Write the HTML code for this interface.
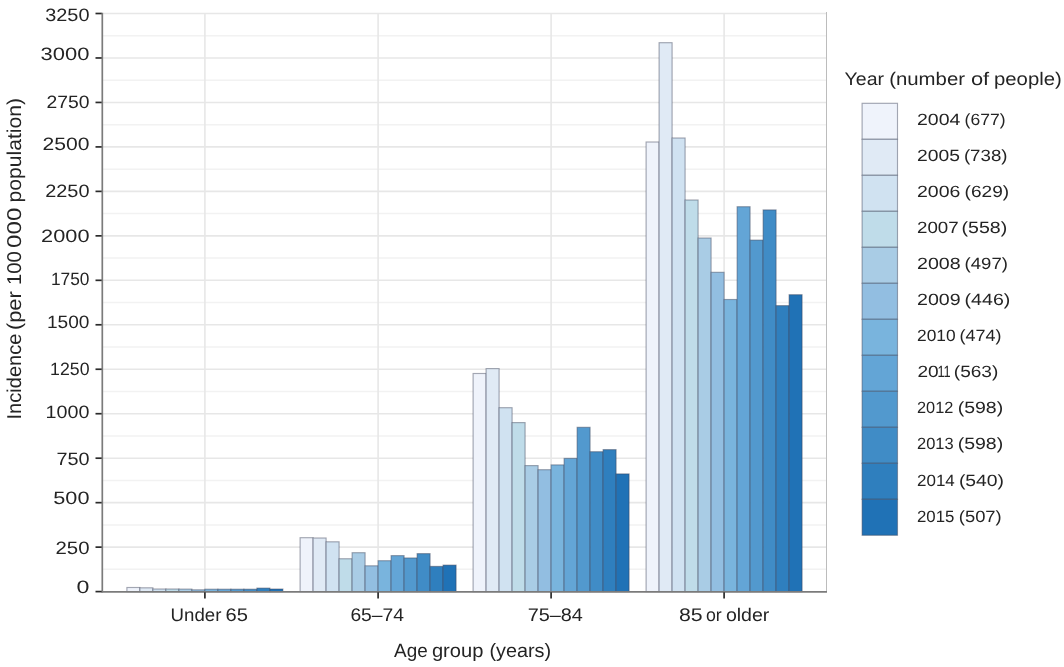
<!DOCTYPE html>
<html lang="en"><head><meta charset="utf-8"><title>Incidence by age group and year</title>
<style>html,body{margin:0;padding:0;background:#fff;}body{width:1064px;height:667px;overflow:hidden;}svg{display:block;will-change:transform;}text{font-family:"Liberation Sans",sans-serif;fill:#242424;text-rendering:geometricPrecision;}</style></head><body>
<svg width="1064" height="667" viewBox="0 0 1064 667">
<rect x="0" y="0" width="1064" height="667" fill="#ffffff"/>
<g stroke="#f2f2f2" stroke-width="1.5">
<line x1="102.3" y1="569.37" x2="826.5" y2="569.37"/>
<line x1="102.3" y1="524.90" x2="826.5" y2="524.90"/>
<line x1="102.3" y1="480.43" x2="826.5" y2="480.43"/>
<line x1="102.3" y1="435.96" x2="826.5" y2="435.96"/>
<line x1="102.3" y1="391.49" x2="826.5" y2="391.49"/>
<line x1="102.3" y1="347.02" x2="826.5" y2="347.02"/>
<line x1="102.3" y1="302.55" x2="826.5" y2="302.55"/>
<line x1="102.3" y1="258.08" x2="826.5" y2="258.08"/>
<line x1="102.3" y1="213.61" x2="826.5" y2="213.61"/>
<line x1="102.3" y1="169.14" x2="826.5" y2="169.14"/>
<line x1="102.3" y1="124.67" x2="826.5" y2="124.67"/>
<line x1="102.3" y1="80.20" x2="826.5" y2="80.20"/>
<line x1="102.3" y1="35.73" x2="826.5" y2="35.73"/>
</g>
<g stroke="#e7e7e7" stroke-width="1.6">
<line x1="102.3" y1="547.13" x2="826.5" y2="547.13"/>
<line x1="102.3" y1="502.66" x2="826.5" y2="502.66"/>
<line x1="102.3" y1="458.19" x2="826.5" y2="458.19"/>
<line x1="102.3" y1="413.72" x2="826.5" y2="413.72"/>
<line x1="102.3" y1="369.25" x2="826.5" y2="369.25"/>
<line x1="102.3" y1="324.78" x2="826.5" y2="324.78"/>
<line x1="102.3" y1="280.32" x2="826.5" y2="280.32"/>
<line x1="102.3" y1="235.85" x2="826.5" y2="235.85"/>
<line x1="102.3" y1="191.38" x2="826.5" y2="191.38"/>
<line x1="102.3" y1="146.91" x2="826.5" y2="146.91"/>
<line x1="102.3" y1="102.44" x2="826.5" y2="102.44"/>
<line x1="102.3" y1="57.97" x2="826.5" y2="57.97"/>
<line x1="102.3" y1="13.50" x2="826.5" y2="13.50"/>
<line x1="204.9" y1="13.5" x2="204.9" y2="591.6"/>
<line x1="378.1" y1="13.5" x2="378.1" y2="591.6"/>
<line x1="551.1" y1="13.5" x2="551.1" y2="591.6"/>
<line x1="724.1" y1="13.5" x2="724.1" y2="591.6"/>
</g>
<line x1="826.5" y1="12" x2="826.5" y2="591.6" stroke="#bcbcbc" stroke-width="1"/>
<g stroke="#3a4056" stroke-opacity="0.45" stroke-width="1.15">
<rect x="126.90" y="587.50" width="13.00" height="4.10" fill="#EFF3FB"/>
<rect x="139.90" y="587.80" width="13.00" height="3.80" fill="#E0EAF5"/>
<rect x="152.90" y="589.00" width="13.00" height="2.60" fill="#D0E2F1"/>
<rect x="165.90" y="589.00" width="13.00" height="2.60" fill="#BFDCE9"/>
<rect x="178.90" y="589.10" width="13.00" height="2.50" fill="#A9CCE5"/>
<rect x="191.90" y="589.80" width="13.00" height="1.80" fill="#92BEE1"/>
<rect x="204.90" y="589.20" width="13.00" height="2.40" fill="#79B4DD"/>
<rect x="217.90" y="589.20" width="13.00" height="2.40" fill="#63A5D6"/>
<rect x="230.90" y="589.20" width="13.00" height="2.40" fill="#5299CE"/>
<rect x="243.90" y="589.20" width="13.00" height="2.40" fill="#408CC6"/>
<rect x="256.90" y="588.10" width="13.00" height="3.50" fill="#2F7FBE"/>
<rect x="269.90" y="589.00" width="13.00" height="2.60" fill="#2072B6"/>
<rect x="300.10" y="537.70" width="13.00" height="53.90" fill="#EFF3FB"/>
<rect x="313.10" y="538.00" width="13.00" height="53.60" fill="#E0EAF5"/>
<rect x="326.10" y="541.80" width="13.00" height="49.80" fill="#D0E2F1"/>
<rect x="339.10" y="558.75" width="13.00" height="32.85" fill="#BFDCE9"/>
<rect x="352.10" y="552.70" width="13.00" height="38.90" fill="#A9CCE5"/>
<rect x="365.10" y="565.80" width="13.00" height="25.80" fill="#92BEE1"/>
<rect x="378.10" y="560.70" width="13.00" height="30.90" fill="#79B4DD"/>
<rect x="391.10" y="555.60" width="13.00" height="36.00" fill="#63A5D6"/>
<rect x="404.10" y="557.95" width="13.00" height="33.65" fill="#5299CE"/>
<rect x="417.10" y="553.60" width="13.00" height="38.00" fill="#408CC6"/>
<rect x="430.10" y="566.40" width="13.00" height="25.20" fill="#2F7FBE"/>
<rect x="443.10" y="565.10" width="13.00" height="26.50" fill="#2072B6"/>
<rect x="473.10" y="373.50" width="13.00" height="218.10" fill="#EFF3FB"/>
<rect x="486.10" y="368.60" width="13.00" height="223.00" fill="#E0EAF5"/>
<rect x="499.10" y="407.70" width="13.00" height="183.90" fill="#D0E2F1"/>
<rect x="512.10" y="422.60" width="13.00" height="169.00" fill="#BFDCE9"/>
<rect x="525.10" y="465.60" width="13.00" height="126.00" fill="#A9CCE5"/>
<rect x="538.10" y="469.70" width="13.00" height="121.90" fill="#92BEE1"/>
<rect x="551.10" y="464.90" width="13.00" height="126.70" fill="#79B4DD"/>
<rect x="564.10" y="458.40" width="13.00" height="133.20" fill="#63A5D6"/>
<rect x="577.10" y="427.30" width="13.00" height="164.30" fill="#5299CE"/>
<rect x="590.10" y="451.70" width="13.00" height="139.90" fill="#408CC6"/>
<rect x="603.10" y="449.60" width="13.00" height="142.00" fill="#2F7FBE"/>
<rect x="616.10" y="473.90" width="13.00" height="117.70" fill="#2072B6"/>
<rect x="646.10" y="142.00" width="13.00" height="449.60" fill="#EFF3FB"/>
<rect x="659.10" y="42.70" width="13.00" height="548.90" fill="#E0EAF5"/>
<rect x="672.10" y="138.00" width="13.00" height="453.60" fill="#D0E2F1"/>
<rect x="685.10" y="200.00" width="13.00" height="391.60" fill="#BFDCE9"/>
<rect x="698.10" y="238.00" width="13.00" height="353.60" fill="#A9CCE5"/>
<rect x="711.10" y="272.30" width="13.00" height="319.30" fill="#92BEE1"/>
<rect x="724.10" y="299.50" width="13.00" height="292.10" fill="#79B4DD"/>
<rect x="737.10" y="206.70" width="13.00" height="384.90" fill="#63A5D6"/>
<rect x="750.10" y="240.10" width="13.00" height="351.50" fill="#5299CE"/>
<rect x="763.10" y="209.90" width="13.00" height="381.70" fill="#408CC6"/>
<rect x="776.10" y="305.60" width="13.00" height="286.00" fill="#2F7FBE"/>
<rect x="789.10" y="294.70" width="13.00" height="296.90" fill="#2072B6"/>
</g>
<g stroke="#7b7b7b" stroke-width="1.7" fill="none">
<line x1="102.3" y1="12.7" x2="102.3" y2="592.5"/>
<line x1="101.5" y1="591.9" x2="827.0" y2="591.9"/>
</g>
<g stroke="#2b2b2b" stroke-width="1.7">
<line x1="95.5" y1="591.60" x2="101.7" y2="591.60"/>
<line x1="95.5" y1="547.13" x2="101.7" y2="547.13"/>
<line x1="95.5" y1="502.66" x2="101.7" y2="502.66"/>
<line x1="95.5" y1="458.19" x2="101.7" y2="458.19"/>
<line x1="95.5" y1="413.72" x2="101.7" y2="413.72"/>
<line x1="95.5" y1="369.25" x2="101.7" y2="369.25"/>
<line x1="95.5" y1="324.78" x2="101.7" y2="324.78"/>
<line x1="95.5" y1="280.32" x2="101.7" y2="280.32"/>
<line x1="95.5" y1="235.85" x2="101.7" y2="235.85"/>
<line x1="95.5" y1="191.38" x2="101.7" y2="191.38"/>
<line x1="95.5" y1="146.91" x2="101.7" y2="146.91"/>
<line x1="95.5" y1="102.44" x2="101.7" y2="102.44"/>
<line x1="95.5" y1="57.97" x2="101.7" y2="57.97"/>
<line x1="95.5" y1="13.50" x2="101.7" y2="13.50"/>
<line x1="204.9" y1="592.2" x2="204.9" y2="598.4"/>
<line x1="378.1" y1="592.2" x2="378.1" y2="598.4"/>
<line x1="551.1" y1="592.2" x2="551.1" y2="598.4"/>
<line x1="724.1" y1="592.2" x2="724.1" y2="598.4"/>
</g>
<g font-size="17.9">
<text x="45.2" y="21.1" textLength="44.3" lengthAdjust="spacingAndGlyphs">3250</text>
<text x="40.6" y="60.3" textLength="48.9" lengthAdjust="spacingAndGlyphs">3000</text>
<text x="46.5" y="108.0" textLength="43.0" lengthAdjust="spacingAndGlyphs">2750</text>
<text x="42.5" y="149.7" textLength="47.0" lengthAdjust="spacingAndGlyphs">2500</text>
<text x="45.2" y="196.9" textLength="44.3" lengthAdjust="spacingAndGlyphs">2250</text>
<text x="41.1" y="242.0" textLength="48.4" lengthAdjust="spacingAndGlyphs">2000</text>
<text x="51.0" y="285.3" textLength="38.5" lengthAdjust="spacingAndGlyphs">1750</text>
<text x="47.0" y="328.4" textLength="42.5" lengthAdjust="spacingAndGlyphs">1500</text>
<text x="50.1" y="375.1" textLength="39.4" lengthAdjust="spacingAndGlyphs">1250</text>
<text x="45.6" y="417.8" textLength="43.9" lengthAdjust="spacingAndGlyphs">1000</text>
<text x="56.4" y="464.7" textLength="33.1" lengthAdjust="spacingAndGlyphs">750</text>
<text x="53.3" y="504.4" textLength="36.2" lengthAdjust="spacingAndGlyphs">500</text>
<text x="55.5" y="553.8" textLength="34.0" lengthAdjust="spacingAndGlyphs">250</text>
<text x="76.6" y="593.3" textLength="12.9" lengthAdjust="spacingAndGlyphs">0</text>
</g>
<g font-size="18.2">
<text x="170.6" y="621.2" textLength="50.8" lengthAdjust="spacingAndGlyphs">Under</text>
<text x="225.6" y="621.2" textLength="22.4" lengthAdjust="spacingAndGlyphs">65</text>
<text x="350.4" y="621.2" textLength="53.6" lengthAdjust="spacingAndGlyphs">65–74</text>
<text x="527.7" y="621.2" textLength="55.2" lengthAdjust="spacingAndGlyphs">75–84</text>
<text x="679.0" y="621.2" textLength="23.7" lengthAdjust="spacingAndGlyphs">85</text>
<text x="705.9" y="621.2" textLength="15.8" lengthAdjust="spacingAndGlyphs">or</text>
<text x="725.9" y="621.2" textLength="43.5" lengthAdjust="spacingAndGlyphs">older</text>
</g>
<g font-size="19.2">
<text x="394.1" y="656.8" textLength="33.6" lengthAdjust="spacingAndGlyphs">Age</text>
<text x="431.9" y="656.8" textLength="51.5" lengthAdjust="spacingAndGlyphs">group</text>
<text x="489.4" y="656.8" textLength="61.7" lengthAdjust="spacingAndGlyphs">(years)</text>
</g>
<g font-size="20">
<text transform="translate(20.5,419.5) rotate(-90)" textLength="86.0" lengthAdjust="spacingAndGlyphs">Incidence</text>
<text transform="translate(20.5,330.0) rotate(-90)" textLength="38.7" lengthAdjust="spacingAndGlyphs">(per</text>
<text transform="translate(20.5,285.1) rotate(-90)" textLength="33.8" lengthAdjust="spacingAndGlyphs">100</text>
<text transform="translate(20.5,247.9) rotate(-90)" textLength="40.3" lengthAdjust="spacingAndGlyphs">000</text>
<text transform="translate(20.5,202.6) rotate(-90)" textLength="104.7" lengthAdjust="spacingAndGlyphs">population)</text>
</g>
<g font-size="18.2">
<text x="844.6" y="84.6" textLength="39.4" lengthAdjust="spacingAndGlyphs">Year</text>
<text x="889.2" y="84.6" textLength="75.8" lengthAdjust="spacingAndGlyphs">(number</text>
<text x="970.9" y="84.6" textLength="18.3" lengthAdjust="spacingAndGlyphs">of</text>
<text x="994.0" y="84.6" textLength="67.8" lengthAdjust="spacingAndGlyphs">people)</text>
</g>
<g stroke="#3a4056" stroke-opacity="0.45" stroke-width="1.15">
<rect x="862.1" y="103.30" width="35.4" height="36.00" fill="#EFF3FB"/>
<rect x="862.1" y="139.30" width="35.4" height="36.00" fill="#E0EAF5"/>
<rect x="862.1" y="175.30" width="35.4" height="36.00" fill="#D0E2F1"/>
<rect x="862.1" y="211.30" width="35.4" height="36.00" fill="#BFDCE9"/>
<rect x="862.1" y="247.30" width="35.4" height="36.00" fill="#A9CCE5"/>
<rect x="862.1" y="283.30" width="35.4" height="36.00" fill="#92BEE1"/>
<rect x="862.1" y="319.30" width="35.4" height="36.00" fill="#79B4DD"/>
<rect x="862.1" y="355.30" width="35.4" height="36.00" fill="#63A5D6"/>
<rect x="862.1" y="391.30" width="35.4" height="36.00" fill="#5299CE"/>
<rect x="862.1" y="427.30" width="35.4" height="36.00" fill="#408CC6"/>
<rect x="862.1" y="463.30" width="35.4" height="36.00" fill="#2F7FBE"/>
<rect x="862.1" y="499.30" width="35.4" height="36.00" fill="#2072B6"/>
</g>
<g font-size="16.3">
<text x="917.0" y="124.7" textLength="43.3" lengthAdjust="spacingAndGlyphs">2004</text>
<text x="964.6" y="124.7" textLength="40.9" lengthAdjust="spacingAndGlyphs">(677)</text>
<text x="917.0" y="160.8" textLength="42.9" lengthAdjust="spacingAndGlyphs">2005</text>
<text x="963.9" y="160.8" textLength="43.6" lengthAdjust="spacingAndGlyphs">(738)</text>
<text x="917.0" y="196.9" textLength="43.3" lengthAdjust="spacingAndGlyphs">2006</text>
<text x="964.6" y="196.9" textLength="44.5" lengthAdjust="spacingAndGlyphs">(629)</text>
<text x="917.0" y="232.9" textLength="41.7" lengthAdjust="spacingAndGlyphs">2007</text>
<text x="961.5" y="232.9" textLength="45.7" lengthAdjust="spacingAndGlyphs">(558)</text>
<text x="917.0" y="269.0" textLength="43.6" lengthAdjust="spacingAndGlyphs">2008</text>
<text x="964.6" y="269.0" textLength="43.3" lengthAdjust="spacingAndGlyphs">(497)</text>
<text x="917.0" y="305.1" textLength="43.6" lengthAdjust="spacingAndGlyphs">2009</text>
<text x="964.6" y="305.1" textLength="45.7" lengthAdjust="spacingAndGlyphs">(446)</text>
<text x="917.0" y="341.2" textLength="38.6" lengthAdjust="spacingAndGlyphs">2010</text>
<text x="959.5" y="341.2" textLength="41.9" lengthAdjust="spacingAndGlyphs">(474)</text>
<text x="917.4" y="377.26" textLength="21.2" lengthAdjust="spacingAndGlyphs">20</text>
<text x="937.4" y="377.26" textLength="13.3" lengthAdjust="spacingAndGlyphs">11</text>
<text x="953.8" y="377.3" textLength="44.5" lengthAdjust="spacingAndGlyphs">(563)</text>
<text x="917.0" y="413.3" textLength="36.3" lengthAdjust="spacingAndGlyphs">2012</text>
<text x="957.7" y="413.3" textLength="45.5" lengthAdjust="spacingAndGlyphs">(598)</text>
<text x="917.0" y="449.4" textLength="36.6" lengthAdjust="spacingAndGlyphs">2013</text>
<text x="957.7" y="449.4" textLength="45.5" lengthAdjust="spacingAndGlyphs">(598)</text>
<text x="917.0" y="485.5" textLength="37.8" lengthAdjust="spacingAndGlyphs">2014</text>
<text x="958.9" y="485.5" textLength="45.1" lengthAdjust="spacingAndGlyphs">(540)</text>
<text x="917.0" y="521.6" textLength="37.4" lengthAdjust="spacingAndGlyphs">2015</text>
<text x="958.8" y="521.6" textLength="42.9" lengthAdjust="spacingAndGlyphs">(507)</text>
</g>
</svg></body></html>
